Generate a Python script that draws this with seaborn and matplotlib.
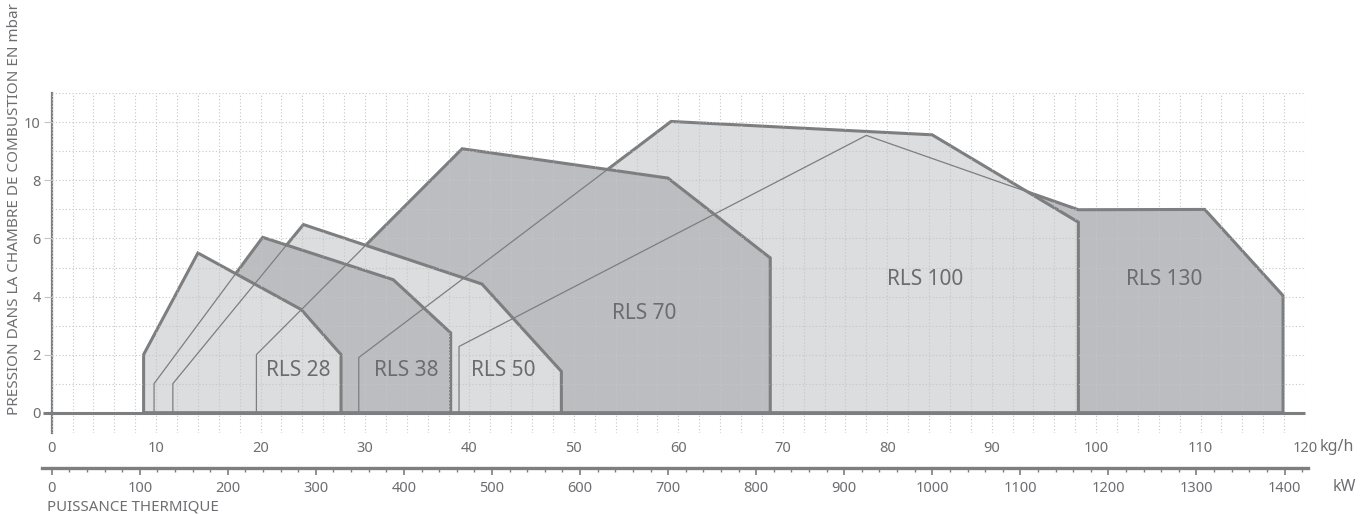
import numpy as np
import pandas as pd
import matplotlib
matplotlib.use('Agg')
import matplotlib.pyplot as plt
import seaborn as sns

# Working fields (x in kg/h, y in mbar)
burners = ['RLS 28', 'RLS 38', 'RLS 50', 'RLS 70', 'RLS 100', 'RLS 130']

rls28_x = [8.8, 8.8, 14.0, 23.9, 27.7, 27.7]
rls28_y = [0, 2.0, 5.5, 3.55, 2.0, 0]
rls38_x = [9.8, 9.8, 20.2, 32.7, 38.2, 38.2]
rls38_y = [0, 1.0, 6.04, 4.58, 2.75, 0]
rls50_x = [11.6, 11.6, 24.1, 41.2, 48.8, 48.8]
rls50_y = [0, 1.0, 6.48, 4.43, 1.42, 0]
rls70_x = [19.6, 19.6, 39.3, 59.0, 68.8, 68.8]
rls70_y = [0, 2.0, 9.09, 8.08, 5.33, 0]
rls100_x = [29.4, 29.4, 59.3, 84.3, 98.3, 98.3]
rls100_y = [0, 1.9, 10.03, 9.57, 6.56, 0]
rls130_x = [39.0, 39.0, 78.0, 98.3, 110.4, 117.9, 117.9]
rls130_y = [0, 2.28, 9.55, 6.99, 7.0, 4.03, 0]

shade = ['light', 'dark', 'light', 'dark', 'light', 'dark']
label_x = [23.65, 33.9, 43.2, 56.7, 83.6, 106.5]
label_y = [1.46, 1.46, 1.46, 3.43, 4.58, 4.6]

x_ticks = list(range(0, 121, 10))
y_ticks = [0, 2, 4, 6, 8, 10]
kw_ticks = list(range(0, 1401, 100))
KW_PER_KGH = 11.86

xs = [rls28_x, rls38_x, rls50_x, rls70_x, rls100_x, rls130_x]
ys = [rls28_y, rls38_y, rls50_y, rls70_y, rls100_y, rls130_y]

# long-form table for the thin outlines
df = pd.concat([pd.DataFrame({'x': x, 'y': y, 'burner': b})
                for b, x, y in zip(burners, xs, ys)], ignore_index=True)

EDGE = '#7d7e80'
TXT = '#6d6e71'
colors = {'light': '#dcdddf', 'dark': '#bcbdc0'}

sns.set_theme(style='white')
plt.rcParams['font.family'] = ['Noto Sans', 'DejaVu Sans']

W, H = 1372, 514
fig = plt.figure(figsize=(W / 100, H / 100), dpi=100)
ax = fig.add_axes([51.7 / W, 1 - 433 / H, (1305 - 51.7) / W, (433 - 93.3) / H])

# filled fields, biggest at the bottom
for i in reversed(range(len(burners))):
    ax.fill(xs[i], ys[i], facecolor=colors[shade[i]], edgecolor=EDGE,
            lw=2.2, joinstyle='miter', zorder=1 + (5 - i) * 0.1)

# hidden edges show through as thin lines
sns.lineplot(data=df, x='x', y='y', units='burner', estimator=None, sort=False,
             color=EDGE, lw=0.9, ax=ax, zorder=3, legend=False)

ax.plot([-0.8, 120], [0, 0], color=EDGE, lw=2.2, clip_on=False, zorder=4,
        solid_capstyle='butt')

for i, name in enumerate(burners):
    ax.text(label_x[i], label_y[i], name, ha='center', va='center',
            fontsize=15, color='#6b6c6f', zorder=5)

ax.set_xlim(0, 120)
ax.set_ylim(-0.7, 11)
ax.set_xlabel('')
ax.set_ylabel('')
ax.set_xticks(x_ticks)
ax.set_xticks(np.arange(0, 121, 2), minor=True)
ax.set_yticks(y_ticks)
ax.set_yticks(np.arange(0, 12, 1), minor=True)
ax.tick_params(axis='x', which='both', length=0, pad=6, labelsize=10.5, labelcolor=TXT)
ax.tick_params(axis='y', which='major', left=True, length=6, width=0.8,
               color='#c4c4c4', pad=2, labelsize=10.5, labelcolor=TXT)
ax.tick_params(axis='y', which='minor', length=0)
ax.set_axisbelow(False)
ax.grid(which='both', color='#c6c6c6', ls=(0, (1, 2)), lw=0.8)
sns.despine(ax=ax, top=True, right=True, bottom=True, left=False)
ax.spines['left'].set_color(EDGE)
ax.spines['left'].set_linewidth(1.6)
ax.patch.set_alpha(0)

# second scale in kW
ax2 = fig.add_axes([42 / W, 1 - 468 / H, (1308 - 42) / W, 0.0001])
ax2.set_xlim((42 - 51.7) / 10.444 * KW_PER_KGH, (1308 - 51.7) / 10.444 * KW_PER_KGH)
ax2.set_yticks([])
ax2.set_xticks(kw_ticks)
ax2.set_xticks(np.arange(0, 1421, 20), minor=True)
ax2.tick_params(axis='x', which='major', bottom=True, direction='out', length=5,
                width=1.2, color=EDGE, labelsize=10.5, labelcolor=TXT, pad=4)
ax2.tick_params(axis='x', which='minor', bottom=True, direction='out', length=3,
                width=1.0, color=EDGE)
for s in ['top', 'left', 'right']:
    ax2.spines[s].set_visible(False)
ax2.spines['bottom'].set_color(EDGE)
ax2.spines['bottom'].set_linewidth(2.4)
ax2.patch.set_alpha(0)

fig.text(15 / W, 1 - 415 / H, 'PRESSION DANS LA CHAMBRE DE COMBUSTION EN mbar',
         rotation=90, ha='center', va='bottom', fontsize=11, color=TXT)
fig.text(1320 / W, 1 - 447 / H, 'kg/h', ha='left', va='center', fontsize=11.5, color=TXT)
fig.text(1333 / W, 1 - 487 / H, 'kW', ha='left', va='center', fontsize=11.5, color=TXT)
fig.text(47 / W, 1 - 507 / H, 'PUISSANCE THERMIQUE', ha='left', va='center',
         fontsize=10.8, color=TXT)

fig.savefig('out.png', dpi=100)
